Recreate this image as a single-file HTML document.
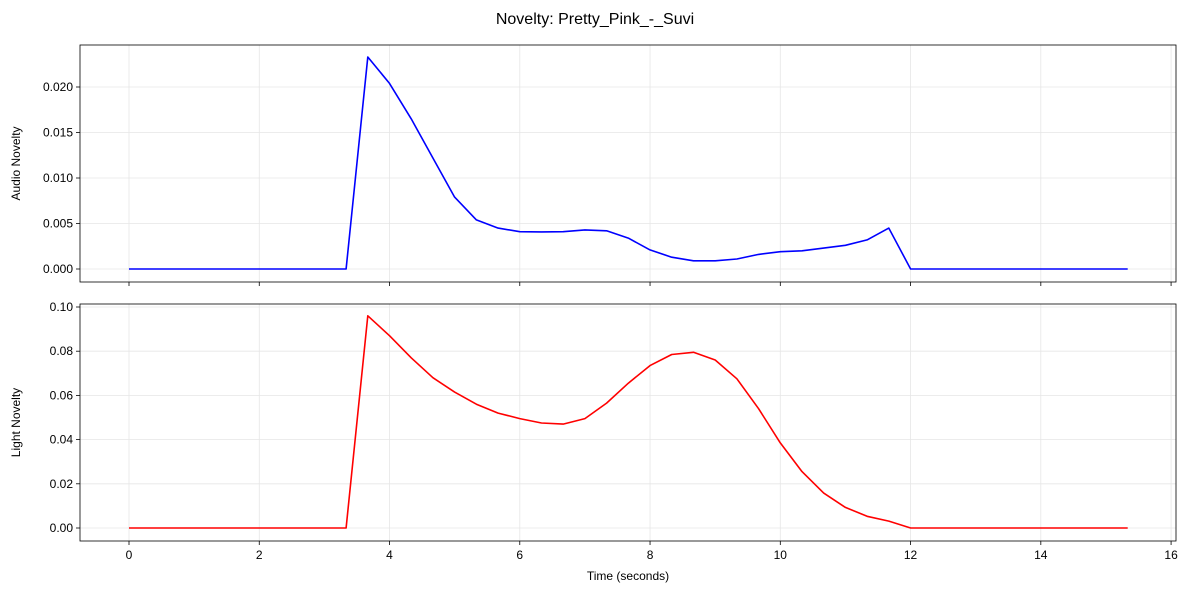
<!DOCTYPE html>
<html><head><meta charset="utf-8">
<style>
html,body{margin:0;padding:0;background:#fff;}
svg{display:block;font-family:"Liberation Sans","DejaVu Sans",sans-serif;}
</style></head>
<body>
<svg id="chart" width="1189" height="592" viewBox="0 0 1189 592" xmlns="http://www.w3.org/2000/svg">
<rect width="1189" height="592" fill="#fff"/>
<text x="595" y="24" font-size="16" text-anchor="middle">Novelty: Pretty_Pink_-_Suvi</text>
</svg>
<script>
const audioValues = [0,0,0,0,0,0,0,0,0,0,0,0.0233,0.0204,0.0165,0.0122,0.0079,0.0054,0.0045,0.0041,0.00408,0.0041,0.0043,0.0042,0.0034,0.0021,0.0013,0.0009,0.0009,0.0011,0.0016,0.0019,0.0020,0.0023,0.0026,0.0032,0.0045,0,0,0,0,0,0,0,0,0,0,0];
const lightValues = [0,0,0,0,0,0,0,0,0,0,0,0.096,0.087,0.077,0.068,0.0615,0.056,0.052,0.0495,0.0475,0.047,0.0495,0.0565,0.0655,0.0735,0.0785,0.0795,0.076,0.0675,0.054,0.0385,0.0255,0.0158,0.0093,0.0053,0.0031,0,0,0,0,0,0,0,0,0,0,0];
const timeStep = 1/3;
const xTicks = [0,2,4,6,8,10,12,14,16];
const audioTicks = [0,0.005,0.010,0.015,0.020];
const lightTicks = [0,0.02,0.04,0.06,0.08,0.10];

const NS = "http://www.w3.org/2000/svg";
const svg = document.getElementById('chart');
function mk(tag, attrs, parent){const e=document.createElementNS(NS,tag);for(const k in attrs)e.setAttribute(k,attrs[k]);(parent||svg).appendChild(e);return e;}
const L=80,R=1176;
const xs = v => 129 + v*65.13;

function panel(name, top, bottom, y0px, yPerUnit, ticks, dec, vals, color, ylabel, showX){
  const ys = v => y0px - v*yPerUnit;
  const g = mk('g',{});
  
  
  xTicks.forEach(t=>{
    const l=mk('line',{x1:xs(t),x2:xs(t),y1:top,y2:bottom,stroke:'#e6e6e6','stroke-width':0.8},g);
    
    
    const tk=mk('line',{x1:xs(t),x2:xs(t),y1:bottom,y2:bottom+4,stroke:'#000','stroke-width':0.8},g);
    
    
    if(showX){
      const tx=mk('text',{x:xs(t),y:bottom+18,'font-size':12,'text-anchor':'middle'},g);
      tx.textContent=t;
      
      
    }
  });
  ticks.forEach(t=>{
    const y=ys(t);
    const l=mk('line',{x1:L,x2:R,y1:y,y2:y,stroke:'#e6e6e6','stroke-width':0.8},g);
    
    
    const tk=mk('line',{x1:L-4,x2:L,y1:y,y2:y,stroke:'#000','stroke-width':0.8},g);
    
    
    const tx=mk('text',{x:L-7,y:y+4,'font-size':12,'text-anchor':'end'},g);
    tx.textContent=t.toFixed(dec);
    
    
  });
  const pts = vals.map((v,i)=>xs(i*timeStep).toFixed(1)+','+ys(v).toFixed(1)).join(' ');
  const pl=mk('polyline',{points:pts,fill:'none',stroke:color,'stroke-width':1.6,'stroke-linejoin':'round'},g);
  
  
  const fr=mk('rect',{x:L,y:top,width:R-L,height:bottom-top,fill:'none',stroke:'#000','stroke-width':0.8},g);
  
  
  const yl=mk('text',{x:0,y:0,'font-size':12,'text-anchor':'middle',transform:`translate(20,${(top+bottom)/2}) rotate(-90)`},g);
  yl.textContent=ylabel;
  
  
}
panel('audio-novelty',45,282,269,182/0.020,audioTicks,3,audioValues,'#0000ff','Audio Novelty',false);
panel('light-novelty',304,541,528,221/0.10,lightTicks,2,lightValues,'#ff0000','Light Novelty',true);
const xl=mk('text',{x:628,y:580,'font-size':12,'text-anchor':'middle'});
xl.textContent='Time (seconds)';


</script>
</body></html>
